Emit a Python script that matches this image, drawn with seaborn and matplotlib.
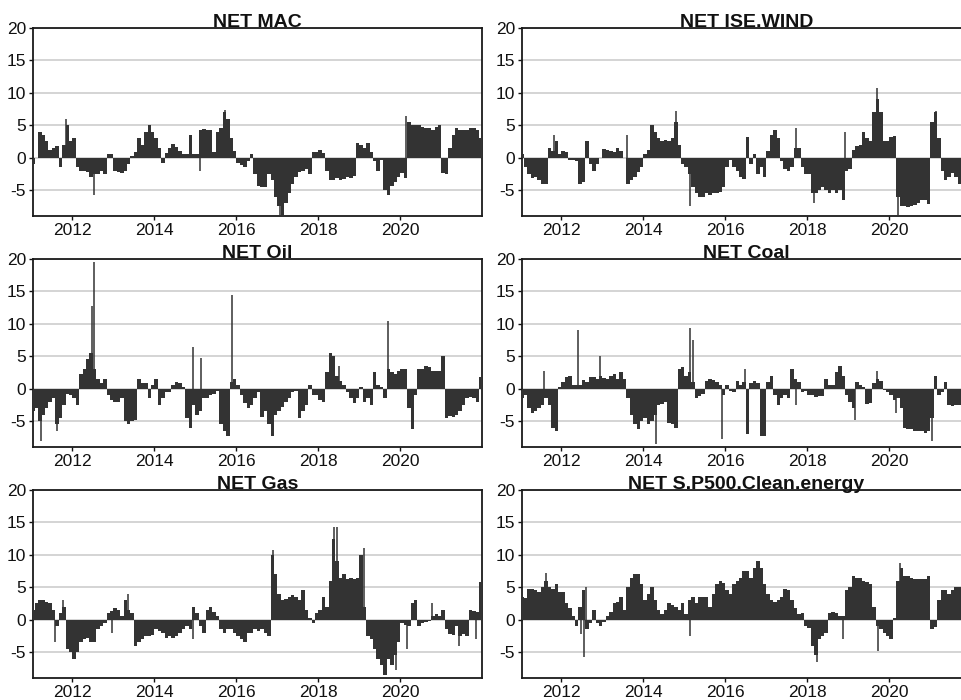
import numpy as np
import pandas as pd
import matplotlib
matplotlib.use("Agg")
import matplotlib.pyplot as plt
import matplotlib.dates as mdates
import seaborn as sns

# ---- monthly net connectedness, Jan 2011 .. Dec 2021 ----
months = pd.date_range("2011-01-01", periods=132, freq="MS")

mac_vals = [
    -1, 0, 4, 3.5, 2.5, 1.2, 1.5, 1.8, -1.5, 2, 5, 2.5,
    3, -1.5, -2, -2, -2.2, -3, -2.5, -2.5, -2, -2.5, 0.5, 0.5,
    -2, -2.2, -2.3, -2, -1, 0.3, 0.8, 3, 2, 4, 5, 4,
    3, 1.5, -0.8, 0.7, 1.5, 2.1, 1.7, 1, 0.6, 0.5, 3.5, 0.5,
    0.5, 4.3, 4.4, 4.3, 4.2, 0.8, 4, 4.5, 7, 6, 3, 1,
    -0.8, -1.1, -1.4, -0.5, 0.6, -2.5, -4.3, -4.5, -4.5, -2.5, -3.5, -6,
    -7.5, -8.9, -7, -5.5, -4, -3, -2.2, -2, -1.8, -2.5, 0.8, 0.8,
    1.2, 0.7, -2, -3.5, -3.5, -3.2, -3.5, -3.3, -3, -3.2, -2.8, 2.2,
    2, 1.5, 2.2, 0.8, -0.5, -2, -0.3, -5, -5.8, -4.3, -3.7, -3,
    -2.3, -3.2, 5.5, 5, 5, 5, 4.8, 4.6, 4.5, 4.3, 4.8, 5,
    -2.3, -2.5, 1.5, 3.5, 4.5, 4.2, 4.3, 4.2, 4.5, 4.5, 4.2, 3,
]
mac_spike_dates = ["2011-11-03", "2012-07-12", "2015-02-10", "2015-09-20",
                   "2017-01-22", "2020-02-24"]
mac_spike_vals = [6.0, -5.7, -2.0, 7.3, -8.9, 6.5]

wind_vals = [
    0.5, -1.5, -2.5, -3.2, -3, -3.5, -4, -4, 1.5, 1, 2.5, 0.5,
    1, 0.8, -0.3, -0.3, -0.5, -4, -3.8, 2.5, -1, -2, -1, 0,
    1.3, 1.2, 1, 0.8, 1.5, 1, 0, -4, -3.5, -3, -2.2, -1.5,
    0.5, 1.2, 5, 4, 3, 2.5, 2.7, 2.5, 3, 5.5, 2, -1,
    -1.5, -2.5, -4.5, -5.5, -6, -6, -5.5, -5.8, -5.5, -5.5, -5.3, -4.5,
    -1.5, -0.3, -1.5, -2, -3, -3.3, 3.2, -1, 0.5, -2.5, -1.5, -3,
    1, 3.5, 4.2, 3, -0.5, -1.8, -2, -1.5, 1.5, 1.5, -1.5, -2.5,
    -2.5, -5.5, -5.5, -5, -4.5, -5, -5.5, -5, -5.5, -5, -6.5, -2,
    -1.8, 1.2, 1.8, 2, 4, 3, 2.5, 7, 9, 7, 2.5, 2.5,
    3.2, 3.3, -6, -7.5, -7.5, -7.6, -7.5, -7.3, -7, -6.5, -6.5, -7.2,
    5.5, 7, 3, -2, -3.5, -3, -2.3, -3, -4, -4.3, -4, -4,
]
wind_spike_dates = ["2011-10-23", "2013-08-04", "2014-10-20", "2015-02-17",
                    "2017-09-20", "2018-02-28", "2018-12-05", "2019-09-16",
                    "2020-03-20", "2021-02-17"]
wind_spike_vals = [3.5, 3.5, 7.2, -7.5, 4.5, -7.0, 4.0, 10.8, -9.0, 7.2]

oil_vals = [
    -3.5, -3, -5, -4, -3, -2, -1.5, -5.5, -4.5, -2.5, -0.8, -1,
    -1.5, -2.5, 2.3, 3, 4.5, 5.5, 3, 1.5, 0.8, 1.5, -1, -1.8,
    -2, -2, -1.5, -5, -5.5, -5, -4.8, 1.5, 0.8, 0.8, -1.5, 0.5,
    1.5, -2.5, -1.5, -0.5, -0.5, 0.5, 1, 0.8, 0.3, -4.5, -6, -2.5,
    -4, -3.5, -1.5, -1.5, -1, -0.8, -0.3, -5.5, -6.5, -7.3, 1, 1.5,
    0.5, -1, -2.2, -3, -2.5, -1.5, -0.5, -4.3, -3.5, -5.5, -7.3, -4,
    -3.5, -2.8, -2, -1.5, -0.5, -0.3, -4.5, -3.5, -2.5, 0.5, -1, -1,
    -1.8, -2, 2.5, 5.5, 5, 2, 1.2, 0.5, -0.5, -1.5, -2.2, -1.5,
    0.3, -2, -1.5, -2.5, 2.5, 0.5, 0.3, -1.5, 3, 2.5, 2.3, 2.8,
    3, 3, -3, -6.3, -1, 3, 3, 3.5, 3.3, 2.8, 2.7, 2.7,
    5, -4.5, -4.2, -4.3, -4, -3.5, -2.5, -1.5, -1.3, -1.5, -2, 1.8,
]
oil_spike_dates = ["2011-03-25", "2011-08-14", "2012-06-28", "2012-07-12",
                   "2014-12-06", "2015-02-17", "2015-11-21", "2018-07-01",
                   "2019-09-16"]
oil_spike_vals = [-8.0, -6.5, 12.8, 19.5, 6.5, 4.8, 14.5, 3.5, 10.4]

coal_vals = [
    -1.5, -1, -3, -3.7, -3.5, -3, -2.5, -1.5, -2.5, -6, -6.5, 0.3,
    1, 1.8, 2, 0.5, 0.5, 0.5, 1.3, 1, 1.8, 1.8, 1.5, 2,
    1.7, 1.5, 2, 2.2, 1.5, 2.5, 1.5, -1.5, -4, -5.5, -6.3, -5,
    -4.5, -5.5, -5, -4, -2.5, -2.3, -2, -5.3, -5.5, -6, 3, 3.3,
    2, 2.5, 1, -1.5, -1.2, -0.8, 1.2, 1.5, 1.3, 1, 0.5, -1,
    0.5, -0.3, -0.5, 1.2, 0.5, 1, -7, 0.8, 1.2, 0.8, -7.3, -7.3,
    1, 2, -1, -2.5, -1.5, -1, -1.5, 3, 1.5, 1, -0.5, -0.3,
    -1, -1, -1.3, -1.2, -1.2, 1.5, 0.5, 0.5, 2.5, 3.5, 2, -1,
    -2, -3, 1, 0.5, 0.3, -2.3, -2.2, 0.8, 1.5, 1.2, -0.2, -0.5,
    -1, -1.8, -1.5, -3, -6, -6.3, -6.3, -6.5, -6.5, -6.6, -6.8, -6.5,
    -4.5, 2, -1, -0.5, 1, -2.5, -2.7, -2.5, -2.5, -2.5, -2.5, -2.5,
]
coal_spike_dates = ["2011-08-03", "2012-05-30", "2012-12-13", "2014-04-20",
                    "2015-02-17", "2015-03-14", "2015-12-02", "2016-06-28",
                    "2017-09-24", "2019-03-05", "2019-09-16", "2020-03-03",
                    "2021-01-12"]
coal_spike_vals = [2.7, 9.0, 5.0, -8.5, 9.3, 7.5, -7.8, 3.0, -2.5, -4.8,
                   2.7, -3.8, -8.0]

gas_vals = [
    1.5, 2.5, 3, 3, 2.8, 2.5, 1.5, -1, 1, 2, -4.5, -5,
    -6, -5, -3.5, -3, -2.8, -3.5, -3.5, -1.5, -1, -0.5, 1, 1.3,
    1.8, 1.5, 0.5, 3, 1.5, 1, -4, -3.5, -3, -2.5, -2.5, -2.3,
    -1.5, -1.8, -2, -2.8, -2.5, -2.8, -2.5, -2, -1.5, -1, -1.5, 2,
    1, -1, -2, 1.5, 2, 1.2, 0.5, -1.5, -2, -1.5, -1.5, -2,
    -2.5, -3, -3.5, -2, -2, -1.5, -1.8, -1.5, -2, -2.5, 10, 7,
    4, 3, 3.2, 3.5, 3.8, 3.5, 3, 4.5, 1.5, 0.3, -0.5, 1,
    1.5, 3.5, 2, 6, 12.5, 9, 6.5, 7, 6.3, 6.5, 6.3, 6.5,
    10, 2, -2.5, -3, -4.5, -6, -7, -8.5, -6, -7, -5.5, -3.5,
    -0.5, -0.8, -1, 2.5, 3, -1, -0.5, -0.3, -0.2, 0.5, 0.8, 0.5,
    1.5, -1.5, -2.2, -2.3, -1, -2.5, -2.2, -2.5, 1.5, 1.3, 1.2, 5.8,
]
gas_spike_dates = ["2011-08-03", "2011-10-08", "2012-12-17", "2013-05-12",
                   "2014-12-06", "2016-11-18", "2018-05-19", "2018-06-17",
                   "2019-02-10", "2019-11-22", "2020-03-03", "2020-10-05",
                   "2021-06-10", "2021-11-03"]
gas_spike_vals = [-3.5, 3.0, -2.0, 4.0, -3.0, 10.8, 14.3, 14.3, 11.0, -7.8,
                  -4.5, 2.5, -4.0, -3.0]

clean_vals = [
    3.5, 3.3, 4.8, 4.8, 4.5, 4.3, 5, 6, 5, 4.8, 5.5, 4.3,
    4.2, 2.5, 1.8, 0.5, -1, 2, 4.5, -1.5, -0.5, 1.5, -0.5, -1,
    -0.3, 0.5, 1.2, 2.5, 2.7, 3.5, 1.5, 5, 6.5, 7, 7, 5.5,
    3, 4, 5, 3, 1.5, 0.8, 1.5, 2.5, 2.3, 2, 1.5, 2.5,
    0.8, 3, 3.5, 2.5, 3.5, 3.5, 3.5, 2, 4, 5.5, 6, 5.7,
    4.5, 4, 5.5, 6, 6.5, 7.5, 7.5, 6.5, 8, 9, 8, 5.5,
    4, 3, 2.8, 3, 3.5, 4.8, 4.5, 3, 1.8, 0.8, 1, -1,
    -1.3, -4, -5.5, -3, -2.5, -2, 1, 1.2, 1, 0.5, 0.5, 4.5,
    5, 6.8, 6.5, 6.5, 6, 5.8, 5.5, 2, -1, -1.5, -2, -2.5,
    -3, 0.3, 6, 8, 6.8, 6.7, 6.5, 6.2, 6.2, 6.2, 6.2, 6.8,
    -1.5, -1.2, 3, 4.5, 4.5, 4, 4.5, 5, 5, 4.5, 4.5, 4.5,
]
clean_spike_dates = ["2011-08-18", "2012-06-25", "2012-07-16", "2012-08-10",
                     "2015-02-17", "2018-03-28", "2018-11-13", "2019-09-20",
                     "2020-04-08"]
clean_spike_vals = [7.2, -2.2, -5.8, 5.0, -2.5, -6.5, -3.0, -4.8, 8.8]

titles = ["NET MAC", "NET ISE.WIND", "NET Oil", "NET Coal", "NET Gas",
          "NET S.P500.Clean.energy"]
series = [
    (mac_vals, mac_spike_dates, mac_spike_vals),
    (wind_vals, wind_spike_dates, wind_spike_vals),
    (oil_vals, oil_spike_dates, oil_spike_vals),
    (coal_vals, coal_spike_dates, coal_spike_vals),
    (gas_vals, gas_spike_dates, gas_spike_vals),
    (clean_vals, clean_spike_dates, clean_spike_vals),
]
y_ticks = [-5, 0, 5, 10, 15, 20]
x_ticks = pd.to_datetime(["2012-01-01", "2014-01-01", "2016-01-01",
                          "2018-01-01", "2020-01-01"])

sns.set_theme(style="white")
plt.rcParams["font.family"] = ["Liberation Sans", "DejaVu Sans"]
plt.rcParams["axes.unicode_minus"] = False

BAR = "#333333"
fig = plt.figure(figsize=(9.62, 7.0), dpi=100)

W, H = 962.0, 700.0
col_left = [33, 522]
col_width = 449
row_top = [28, 259, 490]
row_height = 188

# step edges: each monthly value holds until the start of the next month
edges = months.append(pd.DatetimeIndex(["2022-01-01"]))

for i, (title, (vals, sdates, svals)) in enumerate(zip(titles, series)):
    r, c = divmod(i, 2)
    rect = [col_left[c] / W, 1 - (row_top[r] + row_height) / H,
            col_width / W, row_height / H]
    ax = fig.add_axes(rect)

    step_vals = np.append(vals, vals[-1])
    ax.fill_between(edges, step_vals, 0, step="post", color=BAR,
                    linewidth=0, zorder=3)
    sp = pd.DataFrame({"date": pd.to_datetime(sdates), "value": svals})
    ax.vlines(sp["date"], 0, sp["value"], colors=BAR, linewidth=1.1,
              zorder=3)

    ax.set_ylim(-9, 20)
    ax.set_xlim(pd.Timestamp("2011-01-15"), pd.Timestamp("2021-12-28"))
    ax.set_yticks(y_ticks)
    ax.set_xticks(x_ticks)
    ax.xaxis.set_major_formatter(mdates.DateFormatter("%Y"))
    ax.yaxis.grid(True, color="#cdcdcd", linewidth=1.2, zorder=0)
    ax.xaxis.grid(False)
    ax.set_axisbelow(True)
    ax.tick_params(axis="both", labelsize=12.5, colors="#111111",
                   length=3, width=1, pad=2, direction="out",
                   bottom=True, left=True)
    for s in ax.spines.values():
        s.set_visible(True)
        s.set_color("#1a1a1a")
        s.set_linewidth(1.3)
    ax.set_title(title, fontsize=14, fontweight="bold", color="#111111",
                 pad=0.5)
    ax.set_xlabel("")
    ax.set_ylabel("")

fig.savefig("out.png", dpi=100)
